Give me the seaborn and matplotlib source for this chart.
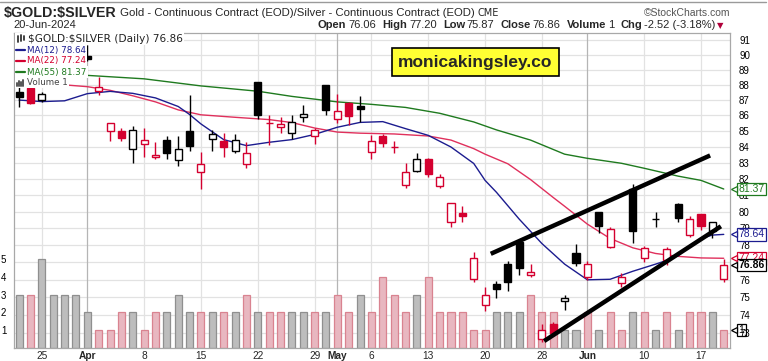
import matplotlib
matplotlib.use("Agg")
import matplotlib.pyplot as plt
import matplotlib.ticker as mticker
import matplotlib.transforms as mtrans
from matplotlib.lines import Line2D
import seaborn as sns
import numpy as np
import pandas as pd

sns.set_style("white")
plt.rcParams['font.family'] = ['Liberation Sans', 'DejaVu Sans']

# daily bars, 21-Mar-2024 .. 20-Jun-2024 (trading days only)
dates = ["2024-03-21", "2024-03-22", "2024-03-25", "2024-03-26", "2024-03-27", "2024-03-28",
         "2024-04-01", "2024-04-02", "2024-04-03", "2024-04-04", "2024-04-05",
         "2024-04-08", "2024-04-09", "2024-04-10", "2024-04-11", "2024-04-12",
         "2024-04-15", "2024-04-16", "2024-04-17", "2024-04-18", "2024-04-19",
         "2024-04-22", "2024-04-23", "2024-04-24", "2024-04-25", "2024-04-26",
         "2024-04-29", "2024-04-30", "2024-05-01", "2024-05-02", "2024-05-03",
         "2024-05-06", "2024-05-07", "2024-05-08", "2024-05-09", "2024-05-10",
         "2024-05-13", "2024-05-14", "2024-05-15", "2024-05-16", "2024-05-17",
         "2024-05-20", "2024-05-21", "2024-05-22", "2024-05-23", "2024-05-24",
         "2024-05-28", "2024-05-29", "2024-05-30", "2024-05-31",
         "2024-06-03", "2024-06-04", "2024-06-05", "2024-06-06", "2024-06-07",
         "2024-06-10", "2024-06-11", "2024-06-12", "2024-06-13", "2024-06-14",
         "2024-06-17", "2024-06-18", "2024-06-20"]

opens = [87.50, 87.80, 86.98, 87.95, 88.60, 89.10,
         89.95, 87.60, 84.97, 85.02, 83.88,
         84.20, 83.35, 84.45, 83.15, 85.02,
         82.40, 84.47, 84.35, 83.72, 82.93,
         88.16, 85.50, 85.27, 84.90, 85.90,
         84.70, 87.97, 85.80, 86.80, 86.60,
         83.65, 84.65, 83.96, 81.60, 82.45,
         83.20, 81.56, 79.40, 79.94, 76.05,
         74.60, 75.74, 76.93, 78.20, 76.30,
         72.70, 73.54, 74.80, 77.57,
         76.17, 79.98, 77.90, 75.80, 81.40,
         77.28, 79.55, 77.12, 80.45, 78.60,
         79.86, 78.86, 76.06]
highs = [87.90, 87.90, 87.50, 88.75, 89.40, 90.00,
         90.70, 88.55, 85.50, 85.20, 85.30,
         85.20, 84.30, 84.65, 84.70, 87.30,
         83.66, 85.05, 84.85, 84.80, 84.28,
         88.20, 86.06, 85.90, 86.06, 86.66,
         85.20, 88.00, 87.40, 86.90, 87.25,
         84.72, 84.82, 84.36, 82.95, 83.60,
         83.30, 82.32, 80.50, 80.35, 77.60,
         75.60, 75.93, 77.06, 78.25, 76.93,
         73.50, 73.62, 75.15, 78.10,
         77.08, 80.00, 79.05, 76.40, 81.70,
         77.96, 79.98, 77.88, 80.54, 79.75,
         79.88, 79.40, 77.20]
lows = [86.55, 86.75, 86.85, 88.00, 88.30, 88.70,
        89.60, 87.35, 84.35, 84.35, 82.98,
        83.35, 83.20, 83.20, 82.78, 83.70,
        81.40, 83.75, 83.35, 83.60, 82.65,
        85.80, 84.10, 84.85, 84.50, 85.60,
        84.16, 86.05, 85.50, 85.37, 85.55,
        83.20, 84.00, 83.60, 81.45, 82.40,
        82.10, 81.46, 79.10, 79.35, 75.90,
        74.25, 74.97, 75.35, 76.30, 76.17,
        72.55, 72.90, 74.30, 76.80,
        75.97, 78.73, 77.83, 75.57, 78.14,
        77.02, 79.08, 76.83, 79.37, 78.47,
        78.90, 78.40, 75.87]
closes = [87.20, 86.80, 87.40, 88.60, 89.10, 89.60,
          89.75, 87.85, 85.50, 84.55, 85.08,
          84.45, 83.50, 83.60, 83.88, 84.07,
          82.93, 84.80, 83.98, 84.40, 83.60,
          86.00, 85.52, 85.44, 85.55, 86.10,
          85.08, 86.33, 86.30, 85.96, 86.40,
          84.35, 84.22, 83.99, 82.42, 83.20,
          82.28, 82.10, 80.50, 79.72, 77.26,
          75.12, 75.47, 75.88, 76.65, 76.45,
          73.20, 73.00, 74.95, 76.97,
          76.88, 79.12, 78.93, 76.16, 78.84,
          77.82, 79.58, 77.76, 79.62, 79.58,
          79.13, 79.38, 76.86]
volumes = [3, 3, 5, 3, 3, 3,
           2, 1, 1, 2, 2,
           1, 2, 2, 3, 2,
           2, 2, 2, 2, 3,
           2, 2, 2, 2, 2,
           2, 2, 3, 2, 3,
           2, 4, 3, 2, 3,
           4, 2, 2, 2, 1,
           1, 2, 2, 2, 3,
           2, 2, 1, 1,
           2, 1, 2, 1, 2,
           2, 1, 2, 1, 2,
           2, 2, 1]

# moving averages (bar index, value)
ma12_idx = [0, 2, 4, 6, 8, 10, 12, 14, 15, 16, 18, 20, 22, 24, 26, 28, 30, 32, 34, 36,
            38, 40, 41, 42, 44, 46, 48, 50, 52, 54, 56, 57, 58, 59, 60, 61, 62]
ma12_val = [87.0, 86.9, 86.95, 87.42, 87.57, 87.44, 87.14, 86.58, 86.06, 85.45, 84.45, 84.07,
            84.28, 84.45, 84.78, 85.24, 85.55, 85.6, 85.15, 84.72, 83.98, 82.95, 81.9, 81.17,
            79.55, 78.1, 76.9, 76.0, 76.03, 76.49, 76.9, 77.12, 77.4, 77.95, 78.4, 78.6, 78.64]
ma22_idx = [4, 6, 8, 10, 12, 14, 16, 19, 22, 24, 26, 28, 30, 33, 36, 38, 40, 41, 43, 45,
            47, 48, 50, 52, 54, 56, 58, 60, 62]
ma22_val = [88.0, 87.88, 87.64, 87.28, 86.88, 86.36, 86.04, 85.88, 85.73, 85.54, 85.19, 84.93,
            84.86, 84.81, 84.68, 84.42, 83.88, 83.53, 82.93, 81.95, 80.85, 80.32, 79.25, 78.4,
            77.85, 77.52, 77.35, 77.26, 77.24]
ma55_idx = [6, 11, 16, 21, 24, 28, 31, 34, 37, 40, 42, 45, 48, 50, 53, 55, 58, 60, 62]
ma55_val = [88.63, 88.4, 87.93, 87.58, 87.24, 86.88, 86.72, 86.52, 86.14, 85.58, 85.07, 84.42,
            83.53, 83.27, 82.96, 82.65, 82.16, 81.9, 81.37]

# hand-drawn trend lines (bar index, price)
upper_line = ([41.5, 60.8], [77.5, 83.45])
lower_line = ([46.2, 61.75], [72.58, 79.12])

tick_idx = [2, 6, 11, 16, 21, 26, 28, 31, 36, 41, 46, 50, 55, 60]
tick_labels = ["25", "Apr", "8", "15", "22", "29", "May", "6", "13", "20", "28", "Jun", "10", "17"]
month_idx = [6, 28, 50]
price_ticks = list(range(73, 92))

df = pd.DataFrame({"date": pd.to_datetime(dates), "open": opens, "high": highs,
                   "low": lows, "close": closes, "volume": volumes})
df["i"] = np.arange(len(df))
prev = df["close"].shift(1).fillna(df["close"].iloc[0] - 1)
RED = "#d4002f"
df["col"] = np.where(df["close"] < prev, RED, "black")
df["hollow"] = df["close"] > df["open"]

W, H = 768, 361
fig = plt.figure(figsize=(W / 100, H / 100), dpi=100)
left, right, top, bottom = 14, 730, 33, 348
rect = [left / W, 1 - bottom / H, (right - left) / W, (bottom - top) / H]
ax_vol = fig.add_axes(rect)
ax = fig.add_axes(rect, sharex=ax_vol)
ax.patch.set_visible(False)

# volume pane
ax_vol.set_ylim(0, 17.7)
vfill = np.where(df["col"] == RED, "#e8b7c0", "#bdbdbd")
vedge = np.where(df["col"] == RED, "#d98390", "#8f8f8f")
ax_vol.bar(df["i"], df["volume"], width=0.62, color=vfill, edgecolor=vedge, lw=0.9, zorder=2)
ax_vol.set_yticks([1, 2, 3, 4, 5])
ax_vol.tick_params(axis="y", left=False, labelleft=True, pad=2, labelsize=7, colors="black")
for s in ax_vol.spines.values():
    s.set_visible(False)

# price grid (behind volume bars)
ax.set_yscale("log")
ax.set_ylim(72.2, 91.5)
ax.set_xlim(-0.45, 62.55)
blend = mtrans.blended_transform_factory(ax.transAxes, ax.transData)
for p in price_ticks:
    ax_vol.add_line(Line2D([0, 1], [p, p], transform=blend, color="#e2e2e2", lw=0.9, zorder=0))
for t in tick_idx:
    c = "#b5b5b5" if t in month_idx else "#e2e2e2"
    ax_vol.axvline(t, color=c, lw=0.9, zorder=0)

# moving averages
sns.lineplot(x=ma55_idx, y=ma55_val, ax=ax, color="#1f7a1f", lw=1.0, legend=False, zorder=3)
sns.lineplot(x=ma22_idx, y=ma22_val, ax=ax, color="#e0305c", lw=1.0, legend=False, zorder=3)
sns.lineplot(x=ma12_idx, y=ma12_val, ax=ax, color="#1c1c8f", lw=1.0, legend=False, zorder=3)

# candles
ax.vlines(df["i"], df["low"], df["high"], colors=df["col"], lw=1.0, zorder=4)
body_lo = np.minimum(df["open"], df["close"])
body_h = np.abs(df["close"] - df["open"])
face = [("white" if h else c) for h, c in zip(df["hollow"], df["col"])]
ax.bar(df["i"], body_h, bottom=body_lo, width=0.62, color=face, edgecolor=df["col"],
       lw=1.0, zorder=5)

# trend lines
ax.plot(*upper_line, color="black", lw=3.2, solid_capstyle="butt", zorder=6)
ax.plot(*lower_line, color="black", lw=3.2, solid_capstyle="butt", zorder=6)

ax.yaxis.tick_right()
ax.yaxis.set_major_locator(mticker.FixedLocator(price_ticks))
ax.yaxis.set_major_formatter(mticker.FormatStrFormatter("%d"))
ax.yaxis.set_minor_locator(mticker.NullLocator())
ax.tick_params(axis="y", right=False, pad=3, labelsize=7, colors="black")
ax.set_xticks(tick_idx)
ax.set_xticklabels(tick_labels)
for lab in ax.get_xticklabels():
    if lab.get_text() in ("Apr", "May", "Jun"):
        lab.set_fontweight("bold")
ax.xaxis.set_minor_locator(mticker.FixedLocator(df["i"]))
ax.tick_params(axis="x", which="major", length=2, color="#999999", pad=0.5, labelsize=7.3)
ax.tick_params(axis="x", which="minor", length=2, color="#999999")
ax_vol.tick_params(axis="x", bottom=False, labelbottom=False)
for s in ax.spines.values():
    s.set_color("#a8a8a8")
    s.set_linewidth(0.9)
ax.set_xlabel("")
ax.set_ylabel("")


# value tags on the right
def tag(axis, val, txt, ec, weight="normal", tc=None):
    axis.text(1.012, val, txt, transform=axis.get_yaxis_transform(), ha="left", va="center",
              fontsize=7.5, color=tc or ec, fontweight=weight, zorder=10, clip_on=False,
              bbox=dict(boxstyle="square,pad=0.12", fc="white", ec=ec, lw=0.9))
    axis.plot([1.006], [val], marker="<", ms=4.5, mfc="white", mec=ec, mew=0.9,
              transform=axis.get_yaxis_transform(), clip_on=False, zorder=11)


tag(ax, 81.37, "81.37", "#1f7a1f")
tag(ax, 78.64, "78.64", "#1c1c8f")
tag(ax, 77.24, "77.24", RED)
tag(ax, 76.86, "76.86", "black", weight="bold")
tag(ax_vol, 1, "1", "black")

# legend block
leg = [("\\$GOLD:\\$SILVER (Daily) 76.86", "#222222", 38.5, 28, None, 7.6),
       ("MA(12) 78.64", "#1c1c8f", 50, 27, "line", 6.3),
       ("MA(22) 77.24", RED, 61, 27, "line", 6.3),
       ("MA(55) 81.37", "#1f7a1f", 72, 27, "line", 6.3),
       ("Volume 1", "#444444", 82.5, 27, "bars", 6.3)]
for txt, c, y, x, icon, fs in leg:
    fig.text(x / W, 1 - y / H, txt, color=c, fontsize=fs, family="DejaVu Sans",
             ha="left", va="center", zorder=8,
             bbox=dict(boxstyle="square,pad=0.15", fc="white", ec="none"))
    if icon == "line":
        fig.add_artist(Line2D([16 / W, 25 / W], [1 - y / H] * 2, color=c, lw=1.6, zorder=9))
    elif icon == "bars":
        for k, hh in enumerate([3, 5, 4, 6]):
            fig.add_artist(Line2D([(16.5 + 2.2 * k) / W] * 2, [1 - (y + 3) / H, 1 - (y + 3 - hh) / H],
                                  color="#555555", lw=1.4, zorder=9))
fig.add_artist(plt.Rectangle((14.5 / W, 1 - 88 / H), 13 / W, 55 / H, fc="white", ec="none", zorder=7))
for k, (a, b) in enumerate([(36, 42), (35, 41), (36, 40)]):
    fig.add_artist(Line2D([(17.5 + 3.3 * k) / W] * 2, [1 - b / H, 1 - a / H], color="#333333",
                          lw=1.3, zorder=9))

# watermark box
fig.text(475.5 / W, 1 - 62 / H, "monicakingsley.co", fontsize=12.5, fontweight="bold",
         ha="center", va="center", zorder=9,
         bbox=dict(boxstyle="square,pad=0.35", fc="#ffff33", ec="black", lw=1.2))

# header
fig.add_artist(Line2D([0, 766 / W], [1 - 1.5 / H] * 2, color="#9a9a9a", lw=1.0))
fig.canvas.draw()
rend = fig.canvas.get_renderer()


def row(x0, y, pieces):
    x = x0
    for txt, kw, gap in pieces:
        t = fig.text(x / W, 1 - y / H, txt, ha="left", va="center", **kw)
        x += t.get_window_extent(renderer=rend).width + gap
    return x


row(4, 12.5, [("\\$GOLD:\\$SILVER", dict(fontsize=10.3, fontweight="bold"), 3),
              ("Gold - Continuous Contract (EOD)/Silver - Continuous Contract (EOD)",
               dict(fontsize=8.2), 3),
              ("CME", dict(fontsize=7, family="DejaVu Sans"), 0)])
fig.text(730 / W, 1 - 13 / H, "\u00a9StockCharts.com", fontsize=7.5, color="#555555",
         ha="right", va="center")
fig.text(13 / W, 1 - 25 / H, "20-Jun-2024", fontsize=8, ha="left", va="center")
b = dict(fontsize=8, fontweight="bold")
n = dict(fontsize=8)
row(318, 25.5, [("Open", b, 2), ("76.06", n, 6), ("High", b, 2), ("77.20", n, 6),
                ("Low", b, 2), ("75.87", n, 6), ("Close", b, 2), ("76.86", n, 6),
                ("Volume", b, 2), ("1", n, 6), ("Chg", b, 2), ("-2.52 (-3.18%)", n, 2),
                ("\u25bc", dict(fontsize=6, color="#b0003a", family="DejaVu Sans"), 0)])

fig.savefig("out.png", dpi=100)
